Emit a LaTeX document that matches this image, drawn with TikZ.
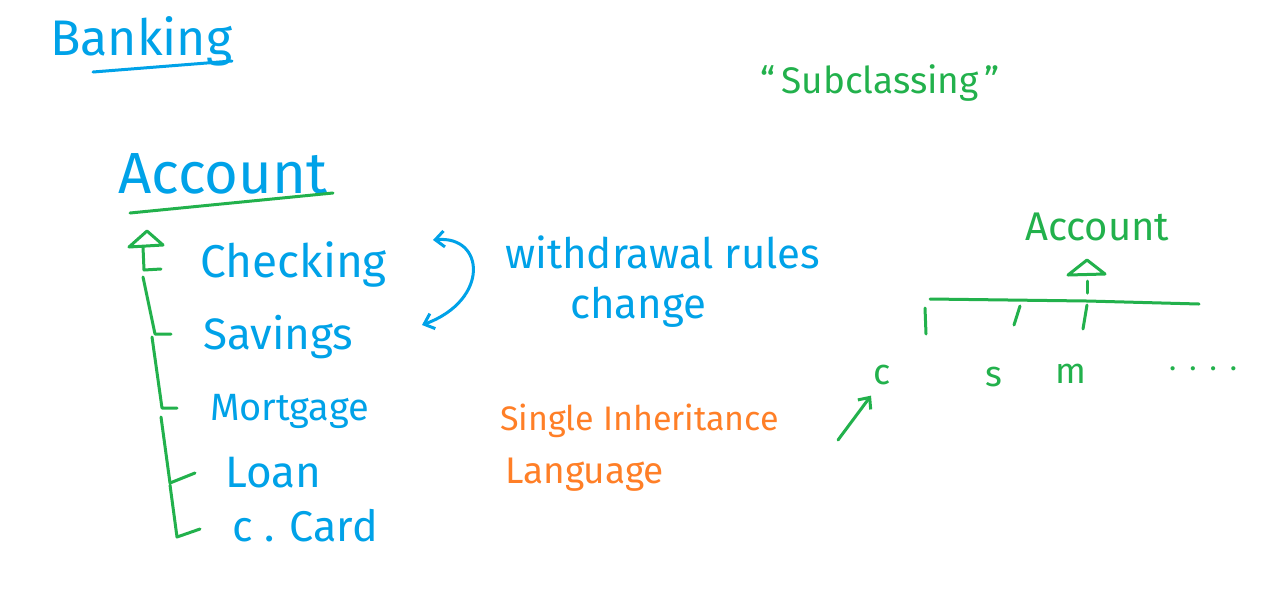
\documentclass[tikz,border=0pt]{standalone}
\usepackage{fontspec}
\setmainfont{Fira Sans}
\usetikzlibrary{arrows.meta}
\definecolor{inkblue}{RGB}{0,162,232}
\definecolor{inkgreen}{RGB}{34,177,76}
\definecolor{inkorange}{RGB}{255,127,39}

\begin{document}
\begin{tikzpicture}[x=1pt, y=-1pt,
  ink/.style={line width=3pt, line cap=round, line join=round},
  word/.style={inner sep=0pt, anchor=base west, font=\fontsize{#1}{#1}\selectfont},
  word/.default=40,
  item/.style={word=#1, text=inkblue},
  item/.default=40,
  >={Straight Barb[length=9pt, width=16pt]}
]
\fill[white] (0,0) rectangle (1268,590);
\useasboundingbox (0,0) rectangle (1268,590);

% Title
\node[word=50, text=inkblue] (banking) at (50,55) {Banking};
\draw[ink, inkblue] (93,72) -- (232,61);

% Left tree
\node[word=58, text=inkblue] (account) at (118,193) {Account};
\draw[ink, inkgreen] (130,213) -- (333,193);

\node[item=46] (checking) at (200,277) {Checking};
\node[item=44] (savings)  at (203,349) {Savings};
\node[item=38] (mortgage) at (210,420) {Mortgage};
\node[item=44] (loan)     at (225,487) {Loan};
\node[item=43] (ccard)    at (232,541) {c . Card};

\draw[ink, inkgreen] (147,231) -- (163,245) -- (129,247) -- cycle;
\draw[ink, inkgreen] (143,247) -- (144,270) -- (161,269);
\draw[ink, inkgreen] (143,277) -- (155,334) -- (171,334);
\draw[ink, inkgreen] (152,337) -- (162,408) -- (177,408);
\draw[ink, inkgreen] (161,417) -- (170,483) -- (195,473);
\draw[ink, inkgreen] (170,485) -- (177,537) -- (200,529);

% Rules note
\coordinate (upper) at (433,240);
\coordinate (lower) at (422,325);
\draw[ink, inkblue, <->] (upper) .. controls (485,235) and (490,300) .. (lower);
\node[item=42] (rules)  at (505,268) {withdrawal rules};
\node[item=42] (change) at (570,318) {change};

% Language note
\node[word=34, text=inkorange] (single)   at (500,430) {Single Inheritance};
\node[word=37, text=inkorange] (language) at (505,483) {Language};

% Right tree
\node[word=37, text=inkgreen] (subclass) at (760,93) {``\,Subclassing\,''};
\node[word=40, text=inkgreen] (superacc) at (1025,240) {Account};

\draw[ink, inkgreen] (1087,260) -- (1105,274) -- (1068,275) -- cycle;
\draw[ink, inkgreen] (1087,281) -- (1087,293);
\draw[ink, inkgreen] (930,299) -- (1087,301) -- (1199,304);
\draw[ink, inkgreen] (925,308) -- (926,334);
\draw[ink, inkgreen] (1020,306) -- (1014,325);
\draw[ink, inkgreen] (1087,305) -- (1083,329);

\node[word=36, text=inkgreen] (subc) at (873,384) {c};
\node[word=36, text=inkgreen] (subs) at (985,386) {s};
\node[word=36, text=inkgreen] (subm) at (1055,383) {m};
\node[word=30, text=inkgreen] (more) at (1169,370) {.\hspace{13pt}.\hspace{13pt}.\hspace{13pt}.};

\coordinate (pointer) at (838,440);
\draw[ink, inkgreen, ->] (pointer) -- ([shift={(-2,11)}]subc.south west);
\end{tikzpicture}
\end{document}
